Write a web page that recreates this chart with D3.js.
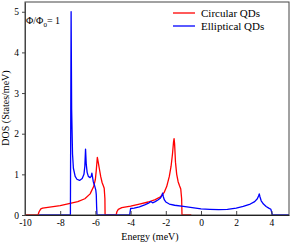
<!DOCTYPE html>
<html><head><meta charset="utf-8">
<script src="https://cdn.jsdelivr.net/npm/d3@7"></script>
<style>body{margin:0;background:#fff}svg{display:block}svg text{font-family:"Liberation Serif","Times New Roman",serif;fill:#000}</style>
</head><body>
<script>
const xTicks = [-10, -8, -6, -4, -2, 0, 2, 4];
const yTicks = [0, 1, 2, 3, 4, 5];
const seriesNames = ["Circular QDs", "Elliptical QDs"];
const seriesColors = ["#ff0000", "#0000ff"];
const circularE = [-10, -9.26, -9.2, -9.1, -9.0, -8.5, -8.0, -7.5, -7.0, -6.6, -6.3, -6.1, -6.0, -5.95, -5.89, -5.84, -5.78, -5.7, -5.62, -5.55, -5.5, -5.46, -5.45, -5.0, -4.82, -4.78, -4.7, -4.5, -4.0, -3.5, -3.0, -2.6, -2.3, -2.1, -1.95, -1.8, -1.7, -1.62, -1.56, -1.53, -1.5, -1.45, -1.38, -1.3, -1.22, -1.15, -1.1, -1.08, -0.55];
const circularDOS = [0, 0, 0.08, 0.15, 0.17, 0.2, 0.23, 0.28, 0.33, 0.4, 0.52, 0.7, 0.88, 1.1, 1.42, 1.3, 1.15, 0.95, 0.8, 0.72, 0.66, 0.4, 0, 0, 0, 0.08, 0.14, 0.18, 0.22, 0.27, 0.32, 0.38, 0.45, 0.55, 0.7, 0.95, 1.2, 1.5, 1.8, 1.88, 1.75, 1.3, 1.0, 0.82, 0.72, 0.64, 0.4, 0, 0];
const ellipticalE = [-9.2, -7.42, -7.4, -7.38, -7.35, -7.3, -7.25, -7.15, -7.05, -6.9, -6.75, -6.65, -6.6, -6.56, -6.52, -6.47, -6.4, -6.3, -6.24, -6.2, -6.17, -6.12, -6.05, -5.98, -5.95, -5.93, -5.91, -4.05, -4.02, -4.0, -3.8, -3.5, -3.2, -2.95, -2.85, -2.75, -2.6, -2.45, -2.3, -2.22, -2.18, -2.14, -2.08, -2.0, -1.8, -1.5, -1.0, -0.5, 0, 0.5, 1.0, 1.5, 2.0, 2.4, 2.8, 3.05, 3.2, 3.27, 3.31, 3.35, 3.42, 3.55, 3.7, 3.85, 3.97, 4.03, 4.05, 5];
const ellipticalDOS = [0, 0, 2.5, 5.0, 2.6, 1.5, 1.15, 0.95, 0.88, 0.85, 0.9, 1.0, 1.2, 1.62, 1.25, 1.05, 0.95, 0.92, 0.95, 1.03, 0.95, 0.82, 0.73, 0.62, 0.5, 0.2, 0, 0, 0.1, 0.16, 0.17, 0.2, 0.25, 0.3, 0.33, 0.3, 0.33, 0.37, 0.42, 0.48, 0.54, 0.45, 0.37, 0.32, 0.27, 0.24, 0.21, 0.18, 0.15, 0.14, 0.13, 0.14, 0.17, 0.21, 0.27, 0.33, 0.4, 0.47, 0.52, 0.45, 0.35, 0.27, 0.21, 0.17, 0.14, 0.05, 0, 0];

const W = 291, H = 243;
const FONT = '"Liberation Serif","Times New Roman",serif';
const svg = d3.select("body").append("svg").attr("width", W).attr("height", H).style("font-family", FONT);
const x = d3.scaleLinear().domain([-10, 5]).range([25, 289]);
const y = d3.scaleLinear().domain([0, 5.24]).range([215, 2]);

const line = d3.line().x(d => x(d[0])).y(d => y(d[1]));
const series = [
  circularE.map((e, i) => [e, circularDOS[i]]),
  ellipticalE.map((e, i) => [e, ellipticalDOS[i]])
];
series.forEach((s, i) => {
  svg.append("path").datum(s).attr("d", line).attr("fill", "none")
    .attr("stroke", seriesColors[i]).attr("stroke-width", 1.3).attr("stroke-linejoin", "round");
});

// frame
svg.append("rect").attr("x", x(-10)).attr("y", y(5.24)).attr("width", x(5) - x(-10)).attr("height", y(0) - y(5.24))
  .attr("fill", "none").attr("stroke", "#444").attr("stroke-width", 1);

const fmt = d => String(d);
const xAxis = svg.append("g").attr("transform", `translate(0,${y(0)})`)
  .call(d3.axisBottom(x).tickValues(xTicks).tickFormat(fmt).tickSizeInner(-4).tickSizeOuter(0).tickPadding(4));
xAxis.attr("font-family", null).style("font-family", FONT);
xAxis.select(".domain").attr("stroke", "#222");
xAxis.selectAll(".tick line").attr("stroke", "#444");
xAxis.selectAll("text").style("font-family", FONT).attr("font-size", 9.5);

const yAxis = svg.append("g").attr("transform", `translate(${x(-10)},0)`)
  .call(d3.axisLeft(y).tickValues(yTicks).tickFormat(fmt).tickSizeInner(3).tickSizeOuter(0).tickPadding(3));
yAxis.attr("font-family", null).style("font-family", FONT);
yAxis.select(".domain").attr("stroke", "#444");
yAxis.selectAll(".tick line").attr("stroke", "#444");
yAxis.selectAll("text").style("font-family", FONT).attr("font-size", 9.5);

svg.append("text").attr("x", 150).attr("y", 240).attr("text-anchor", "middle").attr("font-size", 10).text("Energy (meV)");
svg.append("text").attr("transform", "translate(9,108) rotate(-90)").attr("text-anchor", "middle").attr("font-size", 10).text("DOS (States/meV)");

const ann = svg.append("text").attr("x", 26).attr("y", 24).attr("font-size", 10);
ann.append("tspan").text("Φ/Φ");
ann.append("tspan").attr("font-size", 7).attr("dy", 2.5).text("0");
ann.append("tspan").attr("dy", -2.5).text("= 1");

// legend
seriesNames.forEach((n, i) => {
  const ly = 13 + i * 13;
  svg.append("line").attr("x1", 173).attr("x2", 195).attr("y1", ly).attr("y2", ly)
    .attr("stroke", seriesColors[i]).attr("stroke-width", 1.3);
  svg.append("text").attr("x", 201).attr("y", ly + 3.5).attr("font-size", 11).text(n);
});
</script>
</body></html>
